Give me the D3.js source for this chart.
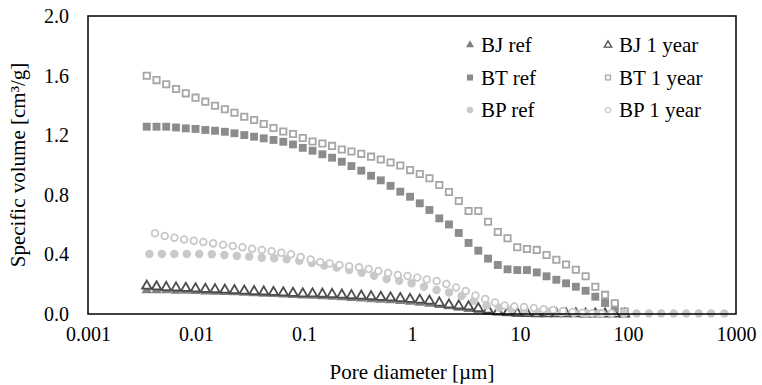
<!DOCTYPE html>
<html>
<head>
<meta charset="utf-8">
<script src="https://cdn.jsdelivr.net/npm/d3@7/dist/d3.min.js"></script>
<style>
  body { margin: 0; background: #fff; }
  text { font-family: "Liberation Serif", "Times New Roman", serif; fill: #000; }
</style>
</head>
<body>
<div id="chart"></div>
<script>
// pore diameters [um]
const diamBT = [0.0035, 0.00431, 0.0053, 0.00653, 0.00804, 0.0099, 0.0122, 0.015, 0.0185, 0.0227,
  0.028, 0.0345, 0.0424, 0.0522, 0.0643, 0.0791, 0.0974, 0.12, 0.148, 0.182,
  0.224, 0.275, 0.339, 0.418, 0.514, 0.633, 0.779, 0.959, 1.18, 1.45,
  1.79, 2.2, 2.71, 3.34, 4.11, 5.06, 6.23, 7.67, 9.44, 11.6,
  14.3, 17.6, 21.7, 26.7, 32.9, 40.5, 49.8, 61.3, 75.5, 92.9];
const diamBP1 = [0.00417, 0.00513, 0.00631, 0.00776, 0.00955, 0.0117, 0.0144, 0.0178, 0.0219, 0.0269,
  0.0331, 0.0407, 0.0501, 0.0616, 0.0758, 0.0932, 0.115, 0.141, 0.173, 0.213,
  0.262, 0.323, 0.397, 0.488, 0.601, 0.739, 0.909, 1.12, 1.37, 1.69,
  2.08, 2.56, 3.15, 3.87, 4.76, 5.86, 7.21, 8.86, 10.9, 13.4,
  16.5, 20.3, 25.0, 30.7, 37.8, 46.5, 57.2, 70.3];
const diamBPref = [0.0037, 0.00483, 0.0063, 0.00822, 0.0107, 0.014, 0.0183, 0.0239, 0.0311, 0.0406,
  0.053, 0.0692, 0.0903, 0.118, 0.154, 0.201, 0.262, 0.342, 0.446, 0.582,
  0.76, 0.992, 1.29, 1.69, 2.2, 2.88, 3.75, 4.9, 6.39, 8.34,
  10.9, 14.2, 18.5, 24.2, 31.6, 41.2, 53.8, 70.2, 91.6, 120,
  156, 203, 265, 346, 452, 589, 780];

// specific volume [cm3/g]
const bjRef = [0.160, 0.160, 0.159, 0.157, 0.156, 0.154, 0.152, 0.150, 0.148, 0.146,
  0.143, 0.140, 0.137, 0.134, 0.131, 0.128, 0.125, 0.122, 0.119, 0.116,
  0.112, 0.108, 0.104, 0.100, 0.096, 0.092, 0.087, 0.082, 0.076, 0.069,
  0.061, 0.052, 0.043, 0.034, 0.025, 0.016, 0.010, 0.006, 0.004, 0.003,
  0.002, 0.002, 0.002, 0.001, 0.001, 0.001, 0.001, 0.001, 0.001, 0.001];
const bj1y = [0.188, 0.183, 0.179, 0.176, 0.173, 0.170, 0.167, 0.164, 0.161, 0.158,
  0.155, 0.152, 0.149, 0.146, 0.143, 0.140, 0.137, 0.136, 0.134, 0.132,
  0.128, 0.124, 0.121, 0.117, 0.113, 0.109, 0.105, 0.099, 0.094, 0.088,
  0.075, 0.062, 0.055, 0.049, 0.038, 0.027, 0.016, 0.010, 0.006, 0.004,
  0.003, 0.003, 0.002, 0.002, 0.002, 0.001, 0.001, 0.001, 0.001, 0.001];
const btRef = [1.257, 1.257, 1.257, 1.252, 1.246, 1.242, 1.235, 1.230, 1.223, 1.213,
  1.201, 1.190, 1.179, 1.168, 1.156, 1.138, 1.115, 1.096, 1.072, 1.049,
  1.022, 0.993, 0.962, 0.928, 0.897, 0.860, 0.821, 0.787, 0.743, 0.698,
  0.642, 0.601, 0.544, 0.477, 0.425, 0.372, 0.329, 0.300, 0.295, 0.295,
  0.279, 0.253, 0.230, 0.206, 0.183, 0.156, 0.116, 0.074, 0.040, 0.013];
const bt1y = [1.599, 1.570, 1.542, 1.510, 1.481, 1.452, 1.425, 1.398, 1.374, 1.351,
  1.324, 1.302, 1.275, 1.248, 1.225, 1.208, 1.181, 1.158, 1.144, 1.128,
  1.104, 1.091, 1.075, 1.056, 1.037, 1.017, 0.997, 0.966, 0.940, 0.911,
  0.866, 0.819, 0.758, 0.691, 0.691, 0.619, 0.550, 0.508, 0.448, 0.436,
  0.430, 0.396, 0.364, 0.332, 0.297, 0.253, 0.183, 0.128, 0.072, 0.017];
const bpRef = [0.403, 0.403, 0.403, 0.403, 0.403, 0.401, 0.396, 0.389, 0.385, 0.378,
  0.374, 0.367, 0.358, 0.342, 0.326, 0.312, 0.295, 0.277, 0.257, 0.235,
  0.223, 0.206, 0.183, 0.161, 0.144, 0.121, 0.089, 0.057, 0.042, 0.030,
  0.022, 0.015, 0.015, 0.010, 0.009, 0.005, 0.005, 0.004, 0.004, 0.003,
  0.003, 0.003, 0.003, 0.003, 0.003, 0.003, 0.003];
const bp1y = [0.542, 0.523, 0.512, 0.500, 0.491, 0.483, 0.474, 0.465, 0.456, 0.448,
  0.438, 0.430, 0.421, 0.411, 0.401, 0.383, 0.366, 0.349, 0.339, 0.329,
  0.321, 0.313, 0.302, 0.289, 0.275, 0.262, 0.255, 0.245, 0.232, 0.221,
  0.201, 0.178, 0.154, 0.124, 0.101, 0.077, 0.057, 0.050, 0.047, 0.040,
  0.032, 0.027, 0.020, 0.013, 0.008, 0.005, 0.004, 0.003];

const xTicks = [0.001, 0.01, 0.1, 1, 10, 100, 1000];
const xTickLabels = ["0.001", "0.01", "0.1", "1", "10", "100", "1000"];
const yTicks = [0, 0.4, 0.8, 1.2, 1.6, 2.0];
const yTickLabels = ["0.0", "0.4", "0.8", "1.2", "1.6", "2.0"];

const series = [
  { name: "BJ ref", x: diamBT, y: bjRef, shape: d3.symbolTriangle, size: 48, fill: "#7f7f7f", stroke: "none" },
  { name: "BJ 1 year", x: diamBT, y: bj1y, shape: d3.symbolTriangle, size: 38, fill: "#fff", stroke: "#4d4d4d" },
  { name: "BT ref", x: diamBT, y: btRef, shape: d3.symbolSquare, size: 62, fill: "#8c8c8c", stroke: "none" },
  { name: "BT 1 year", x: diamBT, y: bt1y, shape: d3.symbolSquare, size: 40, fill: "#fff", stroke: "#a6a6a6" },
  { name: "BP ref", x: diamBPref, y: bpRef, shape: d3.symbolCircle, size: 56, fill: "#c9c9c9", stroke: "none" },
  { name: "BP 1 year", x: diamBP1, y: bp1y, shape: d3.symbolCircle, size: 36, fill: "#fff", stroke: "#c9c9c9" }
];

const width = 762, height = 385;
const margin = { left: 88, right: 26, top: 16, bottom: 71 };
const fontTick = "20px", fontTitle = "21px";

const svg = d3.select("#chart").append("svg")
  .attr("width", width)
  .attr("height", height);

const x = d3.scaleLog().domain([0.001, 1000]).range([margin.left, width - margin.right]);
const y = d3.scaleLinear().domain([0, 2]).range([height - margin.bottom, margin.top]);

// axes, labels only
const xAxis = svg.append("g")
  .attr("transform", `translate(0,${height - margin.bottom})`)
  .call(d3.axisBottom(x).tickValues(xTicks).tickSize(0).tickPadding(13)
    .tickFormat((d, i) => xTickLabels[i]));
const yAxis = svg.append("g")
  .attr("transform", `translate(${margin.left},0)`)
  .call(d3.axisLeft(y).tickValues(yTicks).tickSize(0).tickPadding(19)
    .tickFormat((d, i) => yTickLabels[i]));
[xAxis, yAxis].forEach(a => {
  a.select(".domain").remove();
  a.selectAll("text").style("font-family", "Liberation Serif").style("font-size", fontTick).attr("fill", "#000");
});

// points
series.forEach(s => {
  const sym = d3.symbol().type(s.shape).size(s.size);
  svg.append("g")
    .selectAll("path")
    .data(s.x.map((d, i) => [d, s.y[i]]))
    .enter().append("path")
    .attr("d", sym)
    .attr("transform", d => `translate(${x(d[0])},${y(d[1])})`)
    .attr("fill", s.fill)
    .attr("stroke", s.stroke)
    .attr("stroke-width", s.stroke === "none" ? 0 : 1.8);
});

// plot frame
svg.append("rect")
  .attr("x", margin.left)
  .attr("y", margin.top)
  .attr("width", width - margin.left - margin.right)
  .attr("height", height - margin.top - margin.bottom)
  .attr("fill", "none")
  .attr("stroke", "#000")
  .attr("stroke-width", 1.5);

// axis titles
svg.append("text")
  .attr("x", (margin.left + width - margin.right) / 2)
  .attr("y", 379)
  .attr("text-anchor", "middle")
  .style("font-size", fontTitle)
  .text("Pore diameter [\u00b5m]");
svg.append("text")
  .attr("transform", `translate(25,${(margin.top + height - margin.bottom) / 2}) rotate(-90)`)
  .attr("text-anchor", "middle")
  .style("font-size", fontTitle)
  .text("Specific volume [cm\u00b3/g]");

// legend, two columns
const legend = svg.append("g");
series.forEach((s, i) => {
  const col = i % 2, row = Math.floor(i / 2);
  const lx = 470 + col * 138, ly = 45 + row * 32.5;
  legend.append("path")
    .attr("d", d3.symbol().type(s.shape).size(s.size * 0.6)())
    .attr("transform", `translate(${lx},${ly})`)
    .attr("fill", s.fill)
    .attr("stroke", s.stroke)
    .attr("stroke-width", s.stroke === "none" ? 0 : 1.3);
  legend.append("text")
    .attr("x", lx + 11)
    .attr("y", ly + 7)
    .style("font-size", fontTitle)
    .text(s.name);
});
</script>
</body>
</html>
